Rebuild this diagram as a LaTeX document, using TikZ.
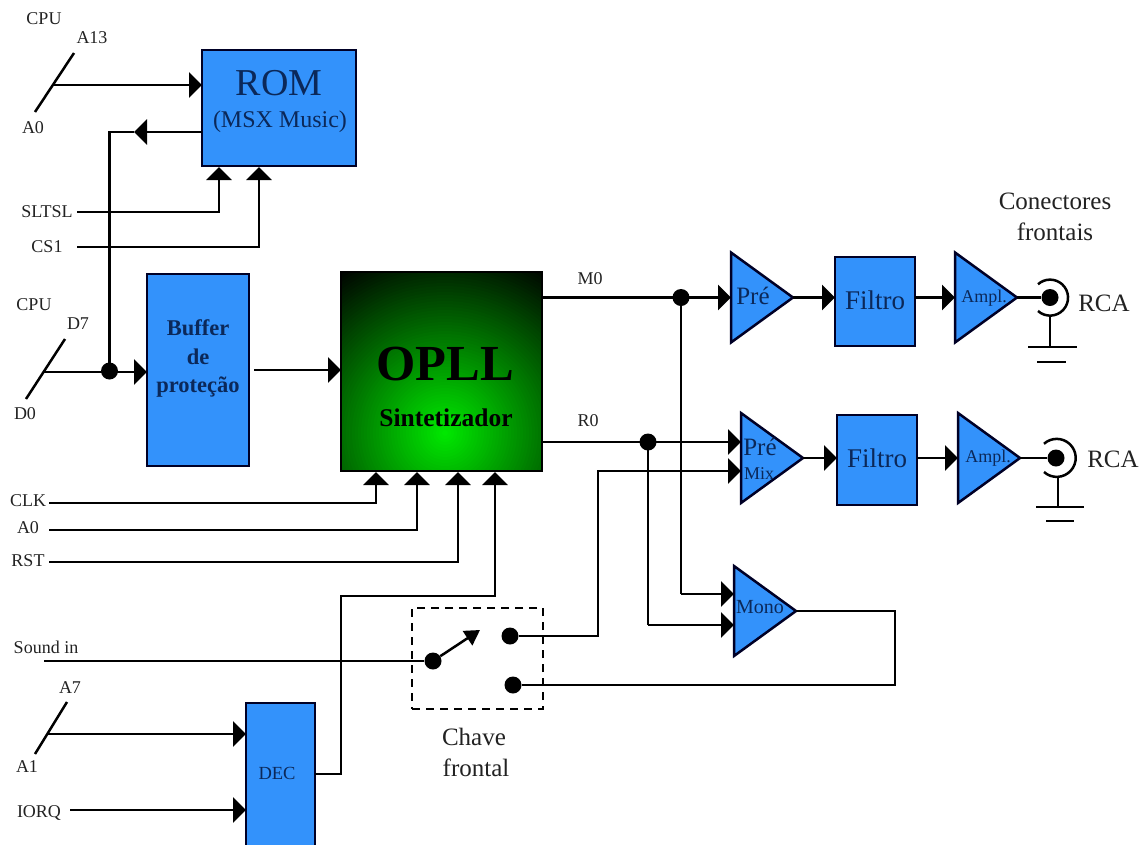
\documentclass[tikz,border=0pt]{standalone}
\usepackage{fontspec}
\setmainfont{Liberation Serif}
\usetikzlibrary{arrows.meta,shapes.geometric}
\definecolor{blockblue}{HTML}{3392FB}
\definecolor{navytext}{HTML}{0B2859}
\definecolor{labeltext}{HTML}{222222}
\tikzset{
  wire/.style={line width=2.5pt,line join=miter},
  feed/.style={wire,-{Triangle[length=13pt,width=25pt]}},
  tag/.style={inner sep=0pt,text=labeltext,font=\fontsize{18}{18}\selectfont},
  bigtag/.style={inner sep=0pt,text=labeltext,font=\fontsize{25}{25}\selectfont},
  intext/.style={inner sep=0pt,text=navytext},
  block/.style={draw=black!85!blue,line width=2.5pt,fill=blockblue,inner sep=0pt,outer sep=0pt},
  amp/.style={draw=black!85!blue,line width=2.5pt,fill=blockblue,isosceles triangle,isosceles triangle stretches,
    inner sep=0pt,outer sep=0pt,anchor=lower side,minimum width=90pt,minimum height=62pt},
  joint/.style={circle,fill=black,inner sep=0pt,minimum size=17pt},
}
\newcommand{\boxat}[5]{\node[block,minimum width=#4pt,minimum height=#5pt] (#1) at (#2,#3) {};}
\begin{document}
\begin{tikzpicture}[x=1pt,y=-1pt]
\useasboundingbox (0,0) rectangle (1141,844);
% blocks
\boxat{rom}{279}{108}{154}{116}
\boxat{buf}{198}{370}{102}{192}
\boxat{filtA}{875}{301.5}{80}{89}
\boxat{filtB}{877}{460}{80}{90}
% OPLL: green glow centred low in the block, fading to black at the corners
\begin{scope}
\clip (341,272) rectangle (542,471);
\fill[black] (341,272) rectangle (542,471);
\foreach \r in {195,192,...,3}{
  \pgfmathsetmacro{\gl}{0.92*(1-\r/195)}
  \definecolor{glowstep}{rgb}{0,\gl,0}
  \fill[glowstep] (445,433) circle[radius=\r];
}
\end{scope}
\node[draw=black,line width=2.5pt,inner sep=0pt,outer sep=0pt,minimum width=201pt,minimum height=199pt] (opll) at (441.5,371.5) {};
\begin{scope}
\clip (0,0) rectangle (1141,844);
\node[block,minimum width=69pt,minimum height=160pt] (dec) at (280.5,783) {};
\end{scope}
% amplifiers
\node[amp] (preA) at (731,297.5) {};
\node[amp] (preB) at (741,458) {};
\node[amp] (mono) at (734,611) {};
\node[amp] (amplA) at (955,297.5) {};
\node[amp] (amplB) at (958,458) {};
% block text
\node[intext,font=\fontsize{38}{38}\selectfont] (romt) at (279,83) {ROM};
\node[intext,font=\fontsize{24}{24}\selectfont] (romm) at (280,122) {(MSX Music)};
\node[intext,font=\bfseries\fontsize{22.5}{22.5}\selectfont] (b1) at (198,328) {Buffer};
\node[intext,font=\bfseries\fontsize{22.5}{22.5}\selectfont] (b2) at (198,357) {de};
\node[intext,font=\bfseries\fontsize{22.5}{22.5}\selectfont] (b3) at (198,387) {proteção};
\node[inner sep=0pt,text=black,font=\bfseries\fontsize{50.5}{50.5}\selectfont] (o1) at (445,364) {OPLL};
\node[inner sep=0pt,text=black,font=\bfseries\fontsize{25.5}{25.5}\selectfont] (o2) at (446,418) {Sintetizador};
\node[intext,font=\fontsize{27}{27}\selectfont] (f1) at (875,300) {Filtro};
\node[intext,font=\fontsize{27}{27}\selectfont] (f2) at (877,458) {Filtro};
\node[intext,font=\fontsize{25}{25}\selectfont] (p1) at (753,296) {Pré};
\node[intext,font=\fontsize{25}{25}\selectfont] (p2) at (760,447) {Pré};
\node[intext,font=\fontsize{18}{18}\selectfont] (mx) at (759,474) {Mix};
\node[intext,font=\fontsize{20}{20}\selectfont] (mn) at (760,607) {Mono};
\node[intext,font=\fontsize{18}{18}\selectfont] (a1) at (984,298) {Ampl.};
\node[intext,font=\fontsize{18}{18}\selectfont] (a2) at (988,458) {Ampl.};
\node[intext,font=\fontsize{18.5}{18.5}\selectfont] (dect) at (277,773) {DEC};
% outer labels
\node[tag] (lcpu1) at (44,19) {CPU};
\node[tag] (la13) at (92,38) {A13};
\node[tag] (la0) at (33,128) {A0};
\node[tag] (lslt) at (47,212) {SLTSL};
\node[tag] (lcs) at (47,247) {CS1};
\node[tag] (lcpu2) at (34,305) {CPU};
\node[tag] (ld7) at (78,324) {D7};
\node[tag] (ld0) at (25,414) {D0};
\node[tag] (lclk) at (28,501) {CLK};
\node[tag] (la0b) at (28,528) {A0};
\node[tag] (lrst) at (28,561) {RST};
\node[tag] (lsnd) at (46,647) {Sound in};
\node[tag] (la7) at (70,688) {A7};
\node[tag] (la1) at (27,767) {A1};
\node[tag] (liorq) at (39,813) {IORQ};
\node[tag] (lm0) at (590,279) {M0};
\node[tag] (lr0) at (588,421) {R0};
\node[bigtag] (lcon1) at (1055,201) {Conectores};
\node[bigtag] (lcon2) at (1055,232) {frontais};
\node[bigtag] (lrca1) at (1104,303) {RCA};
\node[bigtag] (lrca2) at (1113,459) {RCA};
\node[bigtag] (lch1) at (474,737) {Chave};
\node[bigtag] (lch2) at (476,768) {frontal};
% junctions and contacts
\node[joint] (jd) at (109.5,371) {};
\node[joint] (jm) at (681,297.5) {};
\node[joint] (jr) at (648,442) {};
\node[joint] (sw0) at (433,661) {};
\node[joint] (sw1) at (510,636) {};
\node[joint] (sw2) at (513,685) {};
\node[joint] (rcaA) at (1050,297.5) {};
\node[joint] (rcaB) at (1056,458) {};
% free ends and ports
\coordinate (busAt) at (74,53); \coordinate (busAb) at (35,112); \coordinate (busAm) at (53,85);
\coordinate (busDt) at (65,339); \coordinate (busDb) at (26,399); \coordinate (busDm) at (44,372);
\coordinate (busBt) at (67,702); \coordinate (busBb) at (35,754); \coordinate (busBm) at (47,734);
\coordinate (romIn) at (202,85); \coordinate (romOut) at (202,132); \coordinate (romTip) at (134,132); \coordinate (romCorner) at (109.5,132);
\coordinate (sA) at (77,212); \coordinate (sB) at (219,167);
\coordinate (cA) at (77,247); \coordinate (cB) at (259,167);
\coordinate (bufIn) at (147,372); \coordinate (bufOut) at (254,370); \coordinate (opIn) at (341,370);
\coordinate (clkA) at (49,503); \coordinate (clkB) at (376,472);
\coordinate (a0A) at (49,530); \coordinate (a0B) at (417,472);
\coordinate (rstA) at (49,562); \coordinate (rstB) at (458,472);
\coordinate (decOut) at (315,774); \coordinate (decB) at (495,472);
\coordinate (sndA) at (44,661); \coordinate (swTip) at (480,630);
\coordinate (decIn1) at (246,734); \coordinate (decIn2) at (246,810); \coordinate (iorq) at (70,810);
\coordinate (m0) at (542,297.5); \coordinate (r0) at (542,442);
\coordinate (preB1) at (741,442); \coordinate (preB2) at (741,471);
\coordinate (monoIn1) at (734,594); \coordinate (monoIn2) at (734,625);
% connectors
\draw[wire] (busAt) -- (busAb);
\draw[feed] (busAm) -- (romIn);
\draw[feed] (romOut) -- (romTip);
\draw[wire] (romTip) -- (romCorner) -- (jd.center);
\draw[feed] (sA) -| (sB);
\draw[feed] (cA) -| (cB);
\draw[wire] (busDt) -- (busDb);
\draw[feed] (busDm) -- (bufIn);
\draw[feed] (bufOut) -- (opIn);
\draw[feed] (clkA) -| (clkB);
\draw[feed] (a0A) -| (a0B);
\draw[feed] (rstA) -| (rstB);
\draw[feed] (decOut) -- (341,774) -- (341,596) -| (decB);
\draw[wire] (sndA) -- (sw0);
\draw[wire,-{Triangle[length=15pt,width=17pt]}] (sw0) -- (swTip);
\draw[wire] (busBt) -- (busBb);
\draw[feed] (busBm) -- (decIn1);
\draw[feed] (iorq) -- (decIn2);
\draw[feed] (m0) -- (preA.lower side);
\draw[feed] (r0) -- (preB1);
\draw[wire] (jm.center) |- (681,594);
\draw[feed] (681,594) -- (monoIn1);
\draw[wire] (jr.center) |- (648,625);
\draw[feed] (648,625) -- (monoIn2);
\draw[feed] (sw1) -- (598,636) -- (598,471) -- (preB2);
\draw[wire] (mono.apex) -- (895,611) -- (895,685) -- (sw2);
\draw[feed] (preA.apex) -- (filtA.west |- preA.apex);
\draw[feed] (filtA.east |- preA.apex) -- (amplA.lower side);
\draw[feed] (preB.apex) -- (filtB.west |- preB.apex);
\draw[feed] (filtB.east |- amplB.lower side) -- (amplB.lower side);
\draw[wire] (amplA.apex) -- (rcaA);
\draw[wire] (amplB.apex) -- (rcaB);
% switch outline
\node[draw,dash pattern=on 8pt off 6pt,line width=2pt,inner sep=0pt,minimum width=131pt,minimum height=101pt] (swbox) at (477.5,658.5) {};
% RCA connectors
\draw[wire] (1038,311) arc[start angle=132,end angle=-132,radius=18];
\draw[wire] (1050,316) -- (1050,347);
\draw[wire] (1028,347) -- (1077,347);
\draw[wire] (1037,362) -- (1066,362);
\draw[wire] (1044,472) arc[start angle=132,end angle=-132,radius=19];
\draw[wire] (1058,477) -- (1058,507);
\draw[wire] (1036,507) -- (1084,507);
\draw[wire] (1046,521) -- (1074,521);
\end{tikzpicture}
\end{document}
